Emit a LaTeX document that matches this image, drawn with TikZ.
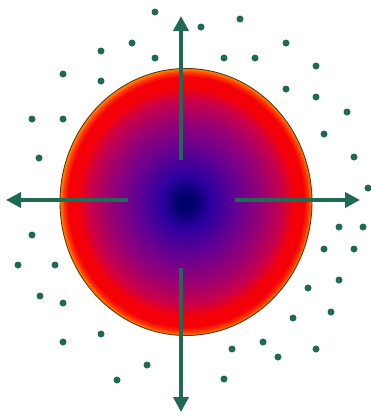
\documentclass[tikz,border=0pt]{standalone}
\usepackage{xcolor}
\usetikzlibrary{arrows.meta}
\definecolor{verdeflecha}{HTML}{1E6A55}
\definecolor{bordebola}{HTML}{5A3412}
\definecolor{azulcentro}{HTML}{00006C}
\definecolor{azulvioleta}{HTML}{2C00A0}
\definecolor{violeta}{HTML}{640092}
\definecolor{magenta}{HTML}{960074}
\definecolor{carmesi}{HTML}{C8004A}
\definecolor{rojobola}{HTML}{F40008}
\definecolor{rojonaranja}{HTML}{FF3800}
\definecolor{naranjabola}{HTML}{FF8C00}
\pgfdeclareradialshading{bola}{\pgfpointorigin}{%
  color(0bp)=(azulcentro); color(1.5bp)=(azulcentro); color(5bp)=(azulvioleta);
  color(10bp)=(violeta); color(15bp)=(magenta); color(19bp)=(carmesi);
  color(21.5bp)=(rojobola); color(23.4bp)=(rojobola); color(24.3bp)=(rojonaranja);
  color(25bp)=(naranjabola); color(50bp)=(naranjabola)}

\begin{document}
\begin{tikzpicture}[
    x=1pt, y=-1pt,
    flecha/.style={-{Triangle[length=15pt, width=15pt]}, line width=3.6pt, color=verdeflecha},
    punto/.style={fill=verdeflecha}
]
\useasboundingbox (0,0) rectangle (370,418);

% esfera
\path[shading=bola, draw=bordebola, line width=0.9pt] (186,202) ellipse [x radius=126pt, y radius=133.5pt];

% flechas
\coordinate (arr0) at (181,160);
\coordinate (arr1) at (181,16);
\coordinate (aba0) at (181,268);
\coordinate (aba1) at (181,412);
\coordinate (izq0) at (128,200);
\coordinate (izq1) at (6,200);
\coordinate (der0) at (235,200);
\coordinate (der1) at (360,200);
\draw[flecha] (arr0) -- (arr1);
\draw[flecha] (aba0) -- (aba1);
\draw[flecha] (izq0) -- (izq1);
\draw[flecha] (der0) -- (der1);

% particulas
\foreach \x/\y in {155/12, 132/43, 101/51, 155/58, 63/74, 101/81, 32/119, 63/119,
    201/27, 240/19, 286/43, 224/58, 255/58, 316/66, 286/89, 316/97, 347/112, 324/134,
    39/158, 32/235, 18/265, 55/265,
    354/157, 368/188, 339/227, 363/227, 324/249, 354/249, 339/280,
    40/296, 63/303, 101/334, 63/342, 147/365, 117/380,
    308/288, 331/312, 293/318, 263/342, 232/349, 278/357, 316/349, 224/379}
  \fill[punto] (\x,\y) circle [radius=3.5pt];
\end{tikzpicture}
\end{document}
